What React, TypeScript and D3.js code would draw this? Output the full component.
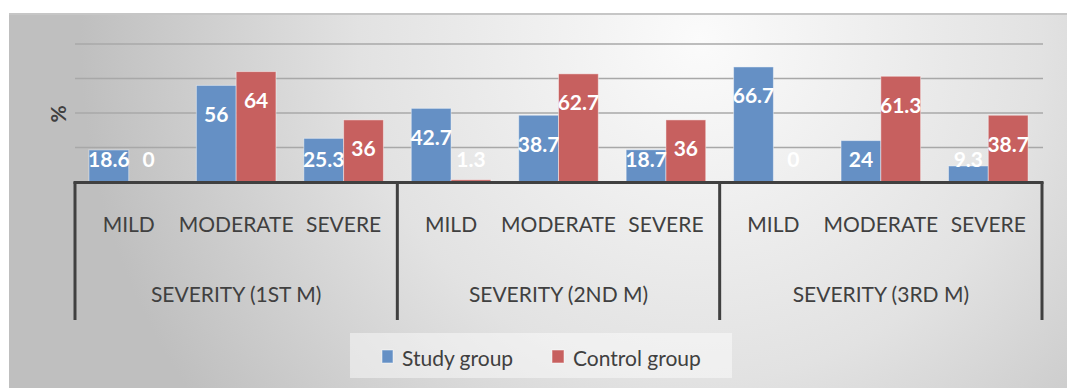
import React from "react";
import * as d3 from "d3";

const groups = ["SEVERITY (1ST M)", "SEVERITY (2ND M)", "SEVERITY (3RD M)"];
const levels = ["MILD", "MODERATE", "SEVERE"];
const seriesNames = ["Study group", "Control group"];
const studyValues = [18.6, 56, 25.3, 42.7, 38.7, 18.7, 66.7, 24, 9.3];
const controlValues = [0, 64, 36, 1.3, 62.7, 36, 0, 61.3, 38.7];
const yTicks = [0, 20, 40, 60, 80];

const W = 1067;
const H = 389;
const FONT = "Lato, 'Noto Sans', sans-serif";
const COLORS = ["#6590c5", "#c7605f"];

export default function App() {
  const x0 = 75;
  const x1 = 1042;
  const yBase = 182;
  const yTop = 44;
  const y = d3.scaleLinear().domain([0, 80]).range([yBase, yTop]);

  const catKeys = groups.flatMap((g) => levels.map((l) => g + "|" + l));
  const xCat = d3.scaleBand<string>().domain(catKeys).range([x0, x1]).paddingInner(0).paddingOuter(0);
  const xGroup = d3.scaleBand<string>().domain(groups).range([x0, x1]).padding(0);
  const xSeries = d3
    .scaleBand<string>()
    .domain(seriesNames)
    .range([0, xCat.bandwidth()])
    .paddingInner(0)
    .paddingOuter(0.35);

  const seriesData = [studyValues, controlValues];

  return (
    <svg width={W} height={H} style={{ display: "block", position: "absolute", left: 0, top: 0 }}>
      <defs>
        <radialGradient id="bg" gradientUnits="userSpaceOnUse" cx={700} cy={40} r={620}>
          <stop offset="0" stopColor="#fbfbfb" />
          <stop offset="0.55" stopColor="#e2e2e2" />
          <stop offset="1" stopColor="#bfbfbf" />
        </radialGradient>
      </defs>
      <rect x={9} y={13} width={W - 9} height={375} fill="url(#bg)" />
      <line x1={9} x2={W} y1={14} y2={14} stroke="#c6c6c6" strokeWidth={2} />

      {/* gridlines */}
      {yTicks.slice(1).map((t) => (
        <line key={t} x1={x0} x2={x1 + 1} y1={y(t)} y2={y(t)} stroke="#a8a8a8" strokeWidth={1.3} />
      ))}

      {/* bars */}
      {seriesData.map((vals, si) =>
        vals.map((v, i) => {
          const bx = (xCat(catKeys[i]) as number) + (xSeries(seriesNames[si]) as number);
          return (
            <rect
              key={si + "-" + i}
              x={bx}
              y={y(v)}
              width={xSeries.bandwidth()}
              height={yBase - y(v)}
              fill={COLORS[si]}
              stroke="rgba(255,255,255,0.45)"
              strokeWidth={1}
            />
          );
        })
      )}

      {/* data labels */}
      {seriesData.map((vals, si) =>
        vals.map((v, i) => {
          const cx = (xCat(catKeys[i]) as number) + (xSeries(seriesNames[si]) as number) + xSeries.bandwidth() / 2;
          const cy = Math.min(y(v) + 28, yBase - 24);
          return (
            <text
              key={"l" + si + "-" + i}
              x={cx}
              y={cy}
              textAnchor="middle"
              dominantBaseline="central"
              fill="#ffffff"
              fontFamily={FONT}
              fontWeight={700}
              fontSize={21}
            >
              {String(v)}
            </text>
          );
        })
      )}

      {/* category axis */}
      <line x1={x0 - 1.5} x2={x1 + 1.5} y1={yBase + 0.5} y2={yBase + 0.5} stroke="#404040" strokeWidth={3} />
      {[...groups.map((g) => xGroup(g) as number), x1].map((gx, i) => (
        <line key={"v" + i} x1={gx} x2={gx} y1={yBase} y2={320} stroke="#404040" strokeWidth={3} />
      ))}
      {catKeys.map((k) => (
        <text
          key={"c" + k}
          x={(xCat(k) as number) + xCat.bandwidth() / 2}
          y={223}
          textAnchor="middle"
          dominantBaseline="central"
          fill="#404040"
          fontFamily={FONT}
          fontSize={21}
        >
          {k.split("|")[1]}
        </text>
      ))}
      {groups.map((g) => (
        <text
          key={"g" + g}
          x={(xGroup(g) as number) + xGroup.bandwidth() / 2}
          y={293}
          textAnchor="middle"
          dominantBaseline="central"
          fill="#404040"
          fontFamily={FONT}
          fontSize={21}
        >
          {g}
        </text>
      ))}

      {/* y-axis title */}
      <text
        transform="translate(57,114) rotate(-90)"
        textAnchor="middle"
        dominantBaseline="central"
        fill="#404040"
        fontFamily={FONT}
        fontWeight={700}
        fontSize={21}
      >
        %
      </text>

      {/* legend */}
      <rect x={350} y={333} width={382} height={45} fill="rgba(255,255,255,0.45)" />
      <rect x={382} y={350} width={11} height={13} fill={COLORS[0]} stroke="rgba(255,255,255,0.5)" />
      <text x={402} y={357} dominantBaseline="central" fill="#404040" fontFamily={FONT} fontSize={21}>
        {seriesNames[0]}
      </text>
      <rect x={552} y={350} width={12} height={13} fill={COLORS[1]} stroke="rgba(255,255,255,0.5)" />
      <text x={573} y={357} dominantBaseline="central" fill="#404040" fontFamily={FONT} fontSize={21}>
        {seriesNames[1]}
      </text>
    </svg>
  );
}
